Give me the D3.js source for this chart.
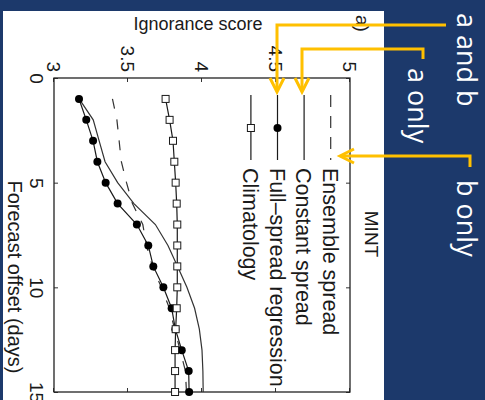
<!DOCTYPE html>
<html>
<head>
<meta charset="utf-8">
<script src="https://cdn.jsdelivr.net/npm/d3@7"></script>
<style>
  html, body { margin: 0; padding: 0; background: #1c396b; }
  svg { display: block; }
</style>
</head>
<body>
<svg id="chart" width="485" height="400"></svg>
<script>
// data (forecast day vs ignorance score)
const days = [1, 2, 3, 4, 5, 6, 7, 8, 9, 10, 11, 12, 13, 14, 15];
const ensembleSpread = [3.395, 3.425, 3.44, 3.455, 3.49, 3.53, 3.6, 3.625, 3.665, 3.725, 3.78, 3.815, 3.852, 3.888, 3.895];
const constantSpread = [3.17, 3.265, 3.305, 3.345, 3.43, 3.54, 3.685, 3.77, 3.835, 3.898, 3.95, 3.982, 4.0, 4.006, 4.008];
const fullSpreadRegression = [3.169, 3.218, 3.264, 3.293, 3.349, 3.43, 3.56, 3.637, 3.671, 3.739, 3.795, 3.82, 3.863, 3.91, 3.913];
const climatology = [3.754, 3.781, 3.804, 3.813, 3.822, 3.829, 3.833, 3.833, 3.833, 3.833, 3.829, 3.822, 3.818, 3.818, 3.818];

const dayTicks = [0, 5, 10, 15];
const scoreTicks = [3, 3.5, 4, 4.5, 5];
const legendLabels = ["Ensemble spread", "Constant spread", "Full\u2013spread regression", "Climatology"];
const calloutLabels = ["a and b", "a only", "b only"];

const svg = d3.select("#chart");
const chartFont = "'Liberation Sans', Arial, Helvetica, sans-serif";
const ink = "#1a1a1a";

// white slide panel holding the figure
svg.append("rect")
  .attr("x", 3).attr("y", 11)
  .attr("width", 381).attr("height", 389)
  .attr("fill", "#ffffff");

// the figure is pasted rotated 90deg clockwise, so draw it normally and rotate the group
const W = 314, H = 296;
const x = d3.scaleLinear().domain([0, 15]).range([0, W]);
const y = d3.scaleLinear().domain([3, 5]).range([H, 0]);

const g = svg.append("g")
  .attr("transform", "translate(350,78) rotate(90)")
  .style("font-family", chartFont);

// axes with inward ticks on all four sides
const styleAxis = sel => {
  sel.select(".domain").remove();
  sel.selectAll(".tick line").attr("stroke", "#333").attr("stroke-width", 1);
  sel.selectAll(".tick text").attr("fill", ink).style("font-size", "19px").style("font-family", chartFont);
};

g.append("g").attr("transform", `translate(0,${H})`)
  .call(d3.axisBottom(x).tickValues(dayTicks).tickSizeInner(-4).tickSizeOuter(0).tickPadding(11))
  .call(styleAxis);
g.append("g")
  .call(d3.axisTop(x).tickValues(dayTicks).tickSizeInner(-4).tickSizeOuter(0).tickFormat(""))
  .call(styleAxis);
g.append("g")
  .call(d3.axisLeft(y).tickValues(scoreTicks).tickSizeInner(-4).tickSizeOuter(0).tickPadding(6).tickFormat(d3.format("")))
  .call(styleAxis);
g.append("g").attr("transform", `translate(${W},0)`)
  .call(d3.axisRight(y).tickValues(scoreTicks).tickSizeInner(-4).tickSizeOuter(0).tickFormat(""))
  .call(styleAxis);

g.append("rect")
  .attr("width", W).attr("height", H)
  .attr("fill", "none").attr("stroke", "#222").attr("stroke-width", 1.3);

// series
const line = d3.line().x((d, i) => x(days[i])).y(d => y(d));

g.append("path").datum(ensembleSpread)
  .attr("d", line).attr("fill", "none")
  .attr("stroke", "#333").attr("stroke-width", 1.2).attr("stroke-dasharray", "10,11");

g.append("path").datum(constantSpread)
  .attr("d", line).attr("fill", "none")
  .attr("stroke", "#333").attr("stroke-width", 1.2);

g.append("path").datum(fullSpreadRegression)
  .attr("d", line).attr("fill", "none")
  .attr("stroke", ink).attr("stroke-width", 1.2);
g.selectAll("circle.fsr").data(fullSpreadRegression).join("circle")
  .attr("class", "fsr")
  .attr("cx", (d, i) => x(days[i])).attr("cy", d => y(d))
  .attr("r", 4).attr("fill", "#000");

g.append("path").datum(climatology)
  .attr("d", line).attr("fill", "none")
  .attr("stroke", ink).attr("stroke-width", 1.2);
g.selectAll("rect.clim").data(climatology).join("rect")
  .attr("class", "clim")
  .attr("x", (d, i) => x(days[i]) - 3.5).attr("y", d => y(d) - 3.5)
  .attr("width", 7).attr("height", 7)
  .attr("fill", "#fff").attr("stroke", ink).attr("stroke-width", 1);

// legend (no box)
const legend = g.append("g");
legendLabels.forEach((label, i) => {
  const ly = 19.3 + i * 26.6;
  const row = legend.append("g");
  row.append("line")
    .attr("x1", 17).attr("x2", 82).attr("y1", ly).attr("y2", ly)
    .attr("stroke", i === 0 ? "#333" : ink).attr("stroke-width", 1.2)
    .attr("stroke-dasharray", i === 0 ? "12,9" : null);
  if (i === 2) {
    row.append("circle").attr("cx", 50).attr("cy", ly).attr("r", 4).attr("fill", "#000");
  }
  if (i === 3) {
    row.append("rect").attr("x", 46.5).attr("y", ly - 3.5).attr("width", 7).attr("height", 7)
      .attr("fill", "#fff").attr("stroke", ink);
  }
  row.append("text")
    .attr("x", 90).attr("y", ly).attr("dy", "0.36em")
    .attr("fill", ink).style("font-size", "21.5px")
    .text(label);
});

// titles and axis labels
g.append("text")
  .attr("x", 156).attr("y", -15)
  .attr("text-anchor", "middle")
  .attr("fill", ink).style("font-size", "19px")
  .text("MINT");

g.append("text")
  .attr("x", -63).attr("y", -6)
  .attr("fill", ink).style("font-size", "19px")
  .text("a)");

g.append("text")
  .attr("transform", "translate(-48,152) rotate(-90)")
  .attr("text-anchor", "middle")
  .attr("fill", ink).style("font-size", "18px")
  .text("Ignorance score");

g.append("text")
  .attr("x", 199).attr("y", 342)
  .attr("text-anchor", "middle")
  .attr("fill", ink).style("font-size", "20px")
  .text("Forecast offset (days)");

// yellow callouts on the slide
const yellow = "#ffc000";
const callouts = svg.append("g")
  .attr("fill", "none").attr("stroke", yellow).attr("stroke-width", 3)
  .attr("stroke-linejoin", "miter");

callouts.append("path").attr("d", "M446,25 H277 V90");
callouts.append("path").attr("d", "M270,78 L277,92 L284,78");
callouts.append("path").attr("d", "M423,59 V49 H302 V90");
callouts.append("path").attr("d", "M295,78 L302,92 L309,78");
callouts.append("path").attr("d", "M470,167 V156 H342");
callouts.append("path").attr("d", "M354,149 L340,156 L354,163");

const calloutPos = [[457, 13], [408, 68], [457, 180]];
svg.append("g")
  .selectAll("text").data(calloutLabels).join("text")
  .attr("transform", (d, i) => `translate(${calloutPos[i][0]},${calloutPos[i][1]}) rotate(90)`)
  .attr("fill", "#ffffff")
  .style("font-family", "'Open Sans', 'Noto Sans', sans-serif")
  .style("font-size", "27px")
  .text(d => d);
</script>
</body>
</html>
